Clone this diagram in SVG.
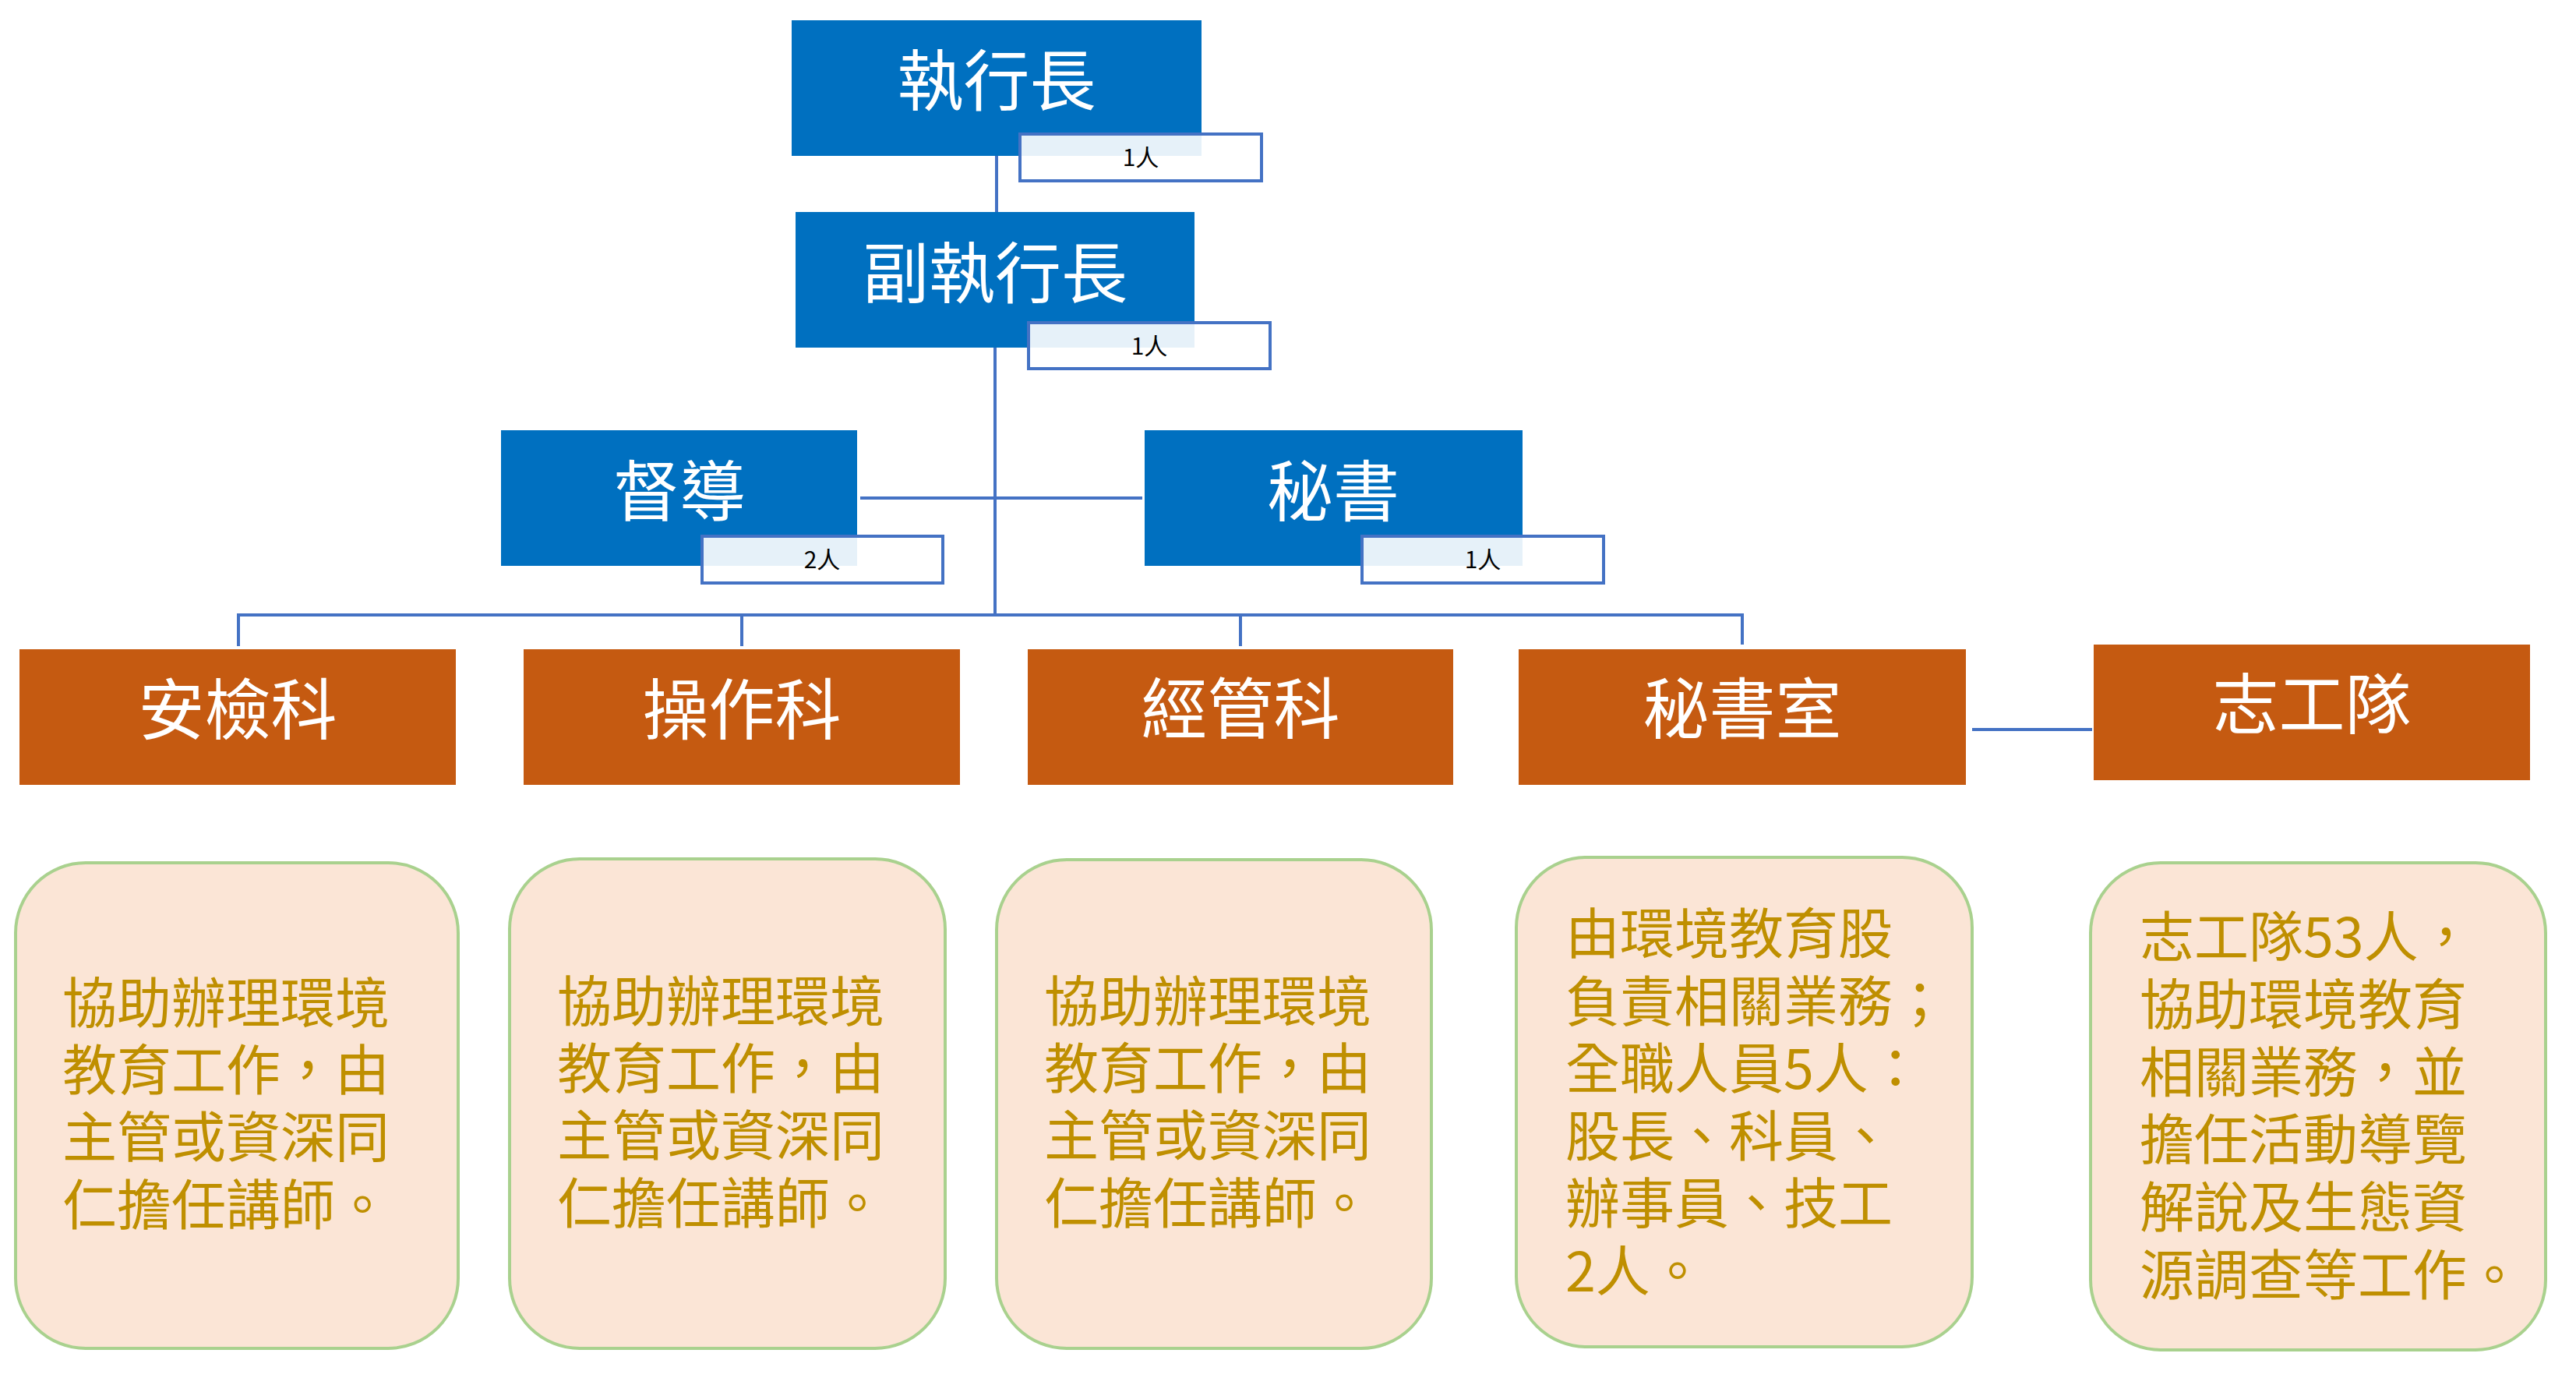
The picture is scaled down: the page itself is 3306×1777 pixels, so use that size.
<svg xmlns="http://www.w3.org/2000/svg" width="3306" height="1777" viewBox="0 0 3306 1777">
<style>
.bg{fill:#ffffff}
.blue{fill:#0070C0}
.orange{fill:#C55A11}
.title{font-family:"Microsoft JhengHei","Noto Sans CJK TC","Noto Sans CJK SC",sans-serif;font-size:85px;fill:#ffffff;text-anchor:middle}
.lbl{fill:#ffffff;fill-opacity:0.9;stroke:#4472C4;stroke-width:4}
.lbltxt{font-family:"Microsoft JhengHei","Noto Sans CJK TC",sans-serif;font-size:30px;fill:#000000;text-anchor:middle}
.desc{fill:#FBE5D6;stroke:#A9D18E;stroke-width:4}
.desctxt{font-family:"Microsoft JhengHei","Noto Sans CJK TC",sans-serif;font-size:70px;fill:#BF8F00}
.conn{stroke:#4472C4;stroke-width:4;fill:none}
</style>
<rect class="bg" x="0" y="0" width="3306" height="1777"/>
<g id="connectors">
<line class="conn" x1="1279" y1="200" x2="1279" y2="272"/>
<line class="conn" x1="1277" y1="446" x2="1277" y2="791"/>
<line class="conn" x1="1104" y1="639" x2="1466" y2="639"/>
<line class="conn" x1="304" y1="789" x2="2238" y2="789"/>
<line class="conn" x1="306" y1="787" x2="306" y2="829"/>
<line class="conn" x1="952" y1="789" x2="952" y2="829"/>
<line class="conn" x1="1592" y1="789" x2="1592" y2="829"/>
<line class="conn" x1="2236" y1="787" x2="2236" y2="827"/>
<line class="conn" x1="2531" y1="936" x2="2685" y2="936"/>
</g>
<g id="ceo">
<rect class="blue" x="1016" y="26" width="526" height="174"/>
<text class="title" x="1279" y="135">執行長</text>
<rect class="lbl" x="1309" y="172" width="310" height="60"/>
<text class="lbltxt" x="1464" y="213">1人</text>
</g>
<g id="deputy">
<rect class="blue" x="1021" y="272" width="512" height="174"/>
<text class="title" x="1277" y="382">副執行長</text>
<rect class="lbl" x="1320" y="414" width="310" height="59"/>
<text class="lbltxt" x="1475" y="455">1人</text>
</g>
<g id="supervisor">
<rect class="blue" x="643" y="552" width="457" height="174"/>
<text class="title" x="872" y="662">督導</text>
<rect class="lbl" x="901" y="688" width="309" height="60"/>
<text class="lbltxt" x="1055" y="729">2人</text>
</g>
<g id="secretary">
<rect class="blue" x="1469" y="552" width="485" height="174"/>
<text class="title" x="1711" y="662">秘書</text>
<rect class="lbl" x="1748" y="688" width="310" height="60"/>
<text class="lbltxt" x="1903" y="729">1人</text>
</g>
<g id="safety">
<rect class="orange" x="25" y="833" width="560" height="174"/>
<text class="title" x="305" y="942">安檢科</text>
</g>
<g id="operation">
<rect class="orange" x="672" y="833" width="560" height="174"/>
<text class="title" x="952" y="942">操作科</text>
</g>
<g id="management">
<rect class="orange" x="1319" y="833" width="546" height="174"/>
<text class="title" x="1592" y="941">經管科</text>
</g>
<g id="secretariat">
<rect class="orange" x="1949" y="833" width="574" height="174"/>
<text class="title" x="2236" y="941">秘書室</text>
</g>
<g id="volunteers">
<rect class="orange" x="2687" y="827" width="560" height="174"/>
<text class="title" x="2967" y="935">志工隊</text>
</g>
<g id="desc-safety">
<rect class="desc" x="20" y="1107" width="568" height="623" rx="90" ry="90"/>
<text class="desctxt" x="80"><tspan x="80" y="1313">協助辦理環境</tspan><tspan x="80" y="1399">教育工作，由</tspan><tspan x="80" y="1485">主管或資深同</tspan><tspan x="80" y="1572">仁擔任講師。</tspan></text>
</g>
<g id="desc-operation">
<rect class="desc" x="654" y="1102" width="559" height="628" rx="90" ry="90"/>
<text class="desctxt" x="715"><tspan x="715" y="1311">協助辦理環境</tspan><tspan x="715" y="1397">教育工作，由</tspan><tspan x="715" y="1483">主管或資深同</tspan><tspan x="715" y="1570">仁擔任講師。</tspan></text>
</g>
<g id="desc-management">
<rect class="desc" x="1279" y="1103" width="558" height="627" rx="90" ry="90"/>
<text class="desctxt" x="1340"><tspan x="1340" y="1311">協助辦理環境</tspan><tspan x="1340" y="1397">教育工作，由</tspan><tspan x="1340" y="1483">主管或資深同</tspan><tspan x="1340" y="1570">仁擔任講師。</tspan></text>
</g>
<g id="desc-secretariat">
<rect class="desc" x="1946" y="1100" width="585" height="628" rx="90" ry="90"/>
<text class="desctxt" x="2009"><tspan x="2009" y="1224">由環境教育股</tspan><tspan x="2009" y="1311">負責相關業務；</tspan><tspan x="2009" y="1397">全職人員5人：</tspan><tspan x="2009" y="1484">股長、科員、</tspan><tspan x="2009" y="1570">辦事員、技工</tspan><tspan x="2009" y="1657">2人。</tspan></text>
</g>
<g id="desc-volunteers">
<rect class="desc" x="2683" y="1107" width="584" height="625" rx="90" ry="90"/>
<text class="desctxt" x="2746"><tspan x="2746" y="1228">志工隊53人，</tspan><tspan x="2746" y="1315">協助環境教育</tspan><tspan x="2746" y="1402">相關業務，並</tspan><tspan x="2746" y="1488">擔任活動導覽</tspan><tspan x="2746" y="1575">解說及生態資</tspan><tspan x="2746" y="1662">源調查等工作。</tspan></text>
</g>
</svg>
